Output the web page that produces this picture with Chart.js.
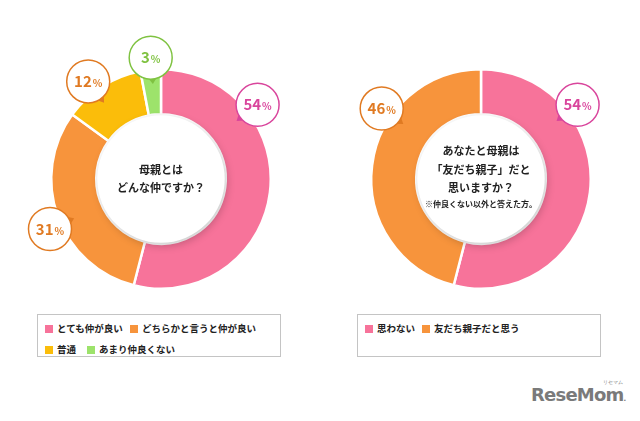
<!DOCTYPE html>
<html>
<head>
<meta charset="utf-8">
<script src="https://cdn.jsdelivr.net/npm/chart.js@4.4.1/dist/chart.umd.min.js"></script>
<style>
  body { margin:0; width:640px; height:421px; background:#fff; position:relative; overflow:hidden;
         font-family:"Noto Sans CJK JP","Noto Sans",sans-serif; }
  canvas { position:absolute; top:0; }
  #c1 { left:0; } #c2 { left:320px; }
  .legend { position:absolute; top:314px; width:244px; height:43px; border:1.5px solid #c4c4c4;
            box-sizing:border-box; font-size:9.5px; font-weight:bold; color:#222; }
  #lg1 { left:37px; } #lg2 { left:357px; }
  .item { position:absolute; white-space:nowrap; line-height:10px; }
  .item span.sw { display:inline-block; width:8px; height:8px; margin-right:4px; vertical-align:-1px; }
  #logo { position:absolute; left:531px; top:384px; font:bold 18px "DejaVu Sans",sans-serif; color:#7a7a7a; letter-spacing:-0.8px; white-space:nowrap; }
  #logo small { position:absolute; left:72px; top:-4px; font-size:5px; font-weight:normal; letter-spacing:0; white-space:nowrap; line-height:5px; }
</style>
</head>
<body>
<canvas id="c1" width="320" height="300"></canvas>
<canvas id="c2" width="320" height="300"></canvas>
<div class="legend" id="lg1"></div>
<div class="legend" id="lg2"></div>
<div id="logo">ReseMom<span style="font-size:7px">.</span><small>リセマム</small></div>
<script>
// chart 1: 母親とはどんな仲ですか？
var labels1 = ['とても仲が良い', 'どちらかと言うと仲が良い', '普通', 'あまり仲良くない'];
var values1 = [54, 31, 12, 3];
var colors1 = ['#f7739a', '#f7943c', '#fbbd0a', '#9de36b'];
var callout1 = ['#d9459c', '#e07a22', '#e07a22', '#7fc241'];
var spot1 = [0.27, 0.46, 0.40, 0.55];
var title1 = ['母親とは', 'どんな仲ですか？'];

// chart 2: 友だち親子だと思いますか？
var labels2 = ['思わない', '友だち親子だと思う'];
var values2 = [54, 46];
var colors2 = ['#f7739a', '#f7943c'];
var callout2 = ['#d9459c', '#e07a22'];
var spot2 = [0.27, 0.67];
var title2 = ['あなたと母親は', '「友だち親子」だと', '思いますか？'];
var note2 = '※仲良くない以外と答えた方。';

var FONT = '"Noto Sans CJK JP","Noto Sans",sans-serif';

var donutDeco = {
  id: 'donutDeco',
  afterDatasetsDraw: function(chart) {
    var o = chart.options.plugins.donutDeco;
    var ctx = chart.ctx;
    var meta = chart.getDatasetMeta(0);
    var a0 = meta.data[0];
    var cx = a0.x, cy = a0.y, ir = a0.innerRadius;
    // inner hole with soft shadow
    ctx.save();
    ctx.shadowColor = 'rgba(0,0,0,0.22)';
    ctx.shadowBlur = 8;
    ctx.shadowOffsetX = 2;
    ctx.shadowOffsetY = 3;
    ctx.fillStyle = '#fff';
    ctx.beginPath();
    ctx.arc(cx, cy, ir - 1, 0, Math.PI * 2);
    ctx.fill();
    ctx.restore();
    // center text
    ctx.save();
    ctx.fillStyle = '#222';
    ctx.textAlign = 'center';
    ctx.textBaseline = 'middle';
    ctx.font = 'bold 11px ' + FONT;
    var n = o.title.length + (o.note ? 1 : 0);
    var y = cy - (n - 1) * 18.5 / 2;
    o.title.forEach(function(t) { ctx.fillText(t, cx, y); y += 18.5; });
    if (o.note) { ctx.font = 'bold 8px ' + FONT; ctx.fillText(o.note, cx, y - 3); }
    ctx.restore();
    // callouts
    var vals = chart.data.datasets[0].data;
    meta.data.forEach(function(arc, i) {
      var ang = arc.startAngle + o.spot[i] * (arc.endAngle - arc.startAngle);
      var d = arc.outerRadius + 12;
      var px = cx + Math.cos(ang) * d, py = cy + Math.sin(ang) * d;
      var r = 21.5, col = o.callout[i];
      // pointer toward the ring
      var ta = Math.atan2(cy - py, cx - px);
      ctx.save();
      ctx.fillStyle = col;
      ctx.beginPath();
      ctx.moveTo(px + Math.cos(ta) * (r + 5), py + Math.sin(ta) * (r + 5));
      ctx.lineTo(px + Math.cos(ta + 0.22) * (r - 1), py + Math.sin(ta + 0.22) * (r - 1));
      ctx.lineTo(px + Math.cos(ta - 0.22) * (r - 1), py + Math.sin(ta - 0.22) * (r - 1));
      ctx.closePath();
      ctx.fill();
      ctx.fillStyle = '#fff';
      ctx.strokeStyle = col;
      ctx.lineWidth = 1.5;
      ctx.beginPath();
      ctx.arc(px, py, r, 0, Math.PI * 2);
      ctx.fill();
      ctx.stroke();
      // value text
      var num = String(vals[i]);
      ctx.font = 'bold 15px ' + FONT;
      var w1 = ctx.measureText(num).width;
      ctx.font = 'bold 10px ' + FONT;
      var w2 = ctx.measureText('%').width;
      var sx = px - (w1 + w2 + 1) / 2;
      ctx.fillStyle = col;
      ctx.textBaseline = 'alphabetic';
      ctx.textAlign = 'left';
      ctx.font = 'bold 15px ' + FONT;
      ctx.fillText(num, sx, py + 5.5);
      ctx.font = 'bold 10px ' + FONT;
      ctx.fillText('%', sx + w1 + 1, py + 5.5);
      ctx.restore();
    });
  }
};

function makeChart(id, labels, values, colors, extra) {
  return new Chart(document.getElementById(id), {
    type: 'doughnut',
    data: {
      labels: labels,
      datasets: [{ data: values, backgroundColor: colors, borderColor: '#fff', borderWidth: 2.5, hoverOffset: 0 }]
    },
    options: {
      responsive: false,
      animation: false,
      cutout: '59%',
      layout: { padding: { left: 50, right: 48, top: 68, bottom: 10 } },
      plugins: { legend: { display: false }, tooltip: { enabled: false }, donutDeco: extra }
    },
    plugins: [donutDeco]
  });
}

function buildLegend(el, labels, colors, pos) {
  labels.forEach(function(l, i) {
    var d = document.createElement('div');
    d.className = 'item';
    d.style.left = pos[i][0] + 'px';
    d.style.top = pos[i][1] + 'px';
    d.innerHTML = '<span class="sw" style="background:' + colors[i] + '"></span>' + l;
    el.appendChild(d);
  });
}

makeChart('c1', labels1, values1, colors1, { title: title1, spot: spot1, callout: callout1 });
makeChart('c2', labels2, values2, colors2, { title: title2, note: note2, spot: spot2, callout: callout2 });
buildLegend(document.getElementById('lg1'), labels1, colors1, [[7, 8], [92, 8], [7, 29], [49, 29]]);
buildLegend(document.getElementById('lg2'), labels2, colors2, [[7, 8], [64, 8]]);
</script>
</body>
</html>
